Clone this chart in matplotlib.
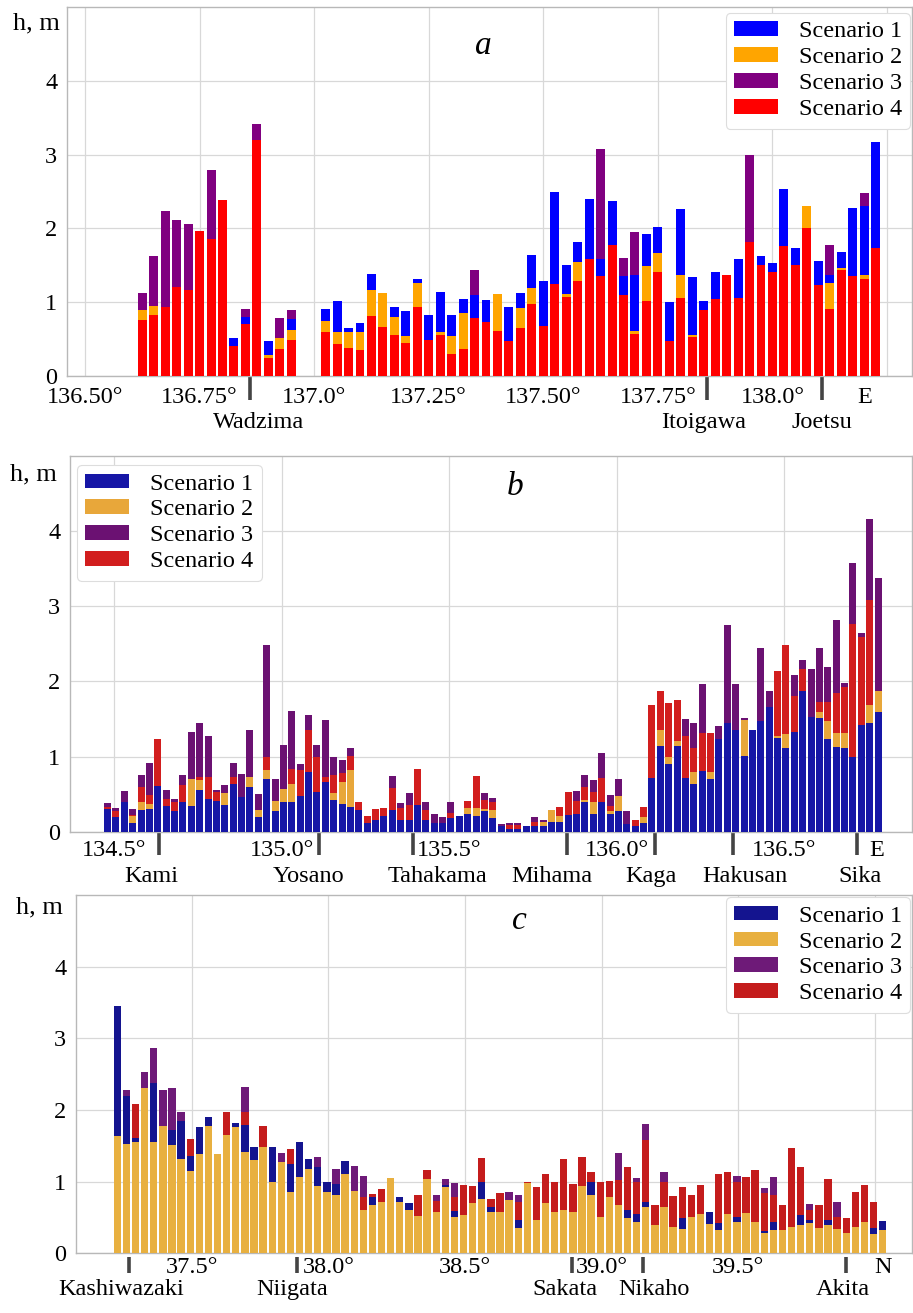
import numpy as np
import matplotlib
matplotlib.use("Agg")
import matplotlib.pyplot as plt

plt.rcParams['font.family'] = 'serif'
plt.rcParams['font.serif'] = ['Liberation Serif', 'DejaVu Serif']

# ---------------- data: panel a (longitude, E) ----------------
a_lon = np.round(136.625 + 0.025 * np.arange(65), 3)
a_s1 = [.89, .95, .94, 1.21, 1.17, 1.96, 1.85, 2.38, .51, .80,
        3.20, .48, .52, .77, 0, 0, .91, 1.01, .65, .72,
        1.38, 1.13, .94, .88, 1.31, .82, 1.14, .82, 1.04, 1.10,
        1.03, 1.11, .93, 1.13, 1.64, 1.29, 2.49, 1.50, 1.81, 2.40,
        1.59, 2.37, 1.35, 1.37, 1.92, 2.02, 1.00, 2.26, 1.34, 1.01,
        1.41, 1.37, 1.59, 1.81, 1.62, 1.53, 2.53, 1.73, 2.00, 1.56,
        1.37, 1.68, 2.27, 2.31, 3.17]
a_s2 = [.89, .95, .94, 1.21, 1.17, 1.96, 1.85, 2.38, .40, .71,
        3.20, .28, .52, .62, 0, 0, .74, .60, .60, .60,
        1.17, 1.13, .80, .54, 1.26, .49, .60, .54, .85, .78,
        .73, 1.11, .48, .92, 1.19, .68, 1.25, 1.11, 1.54, 1.59,
        1.36, 1.78, 1.10, .61, 1.49, 1.67, .48, 1.37, .56, .89,
        1.04, 1.37, 1.06, 1.81, 1.50, 1.41, 1.76, 1.51, 2.30, 1.23,
        1.26, 1.47, 1.36, 1.37, 1.73]
a_s3 = [1.13, 1.63, 2.23, 2.11, 2.06, 1.96, 2.79, 2.38, .51, .91,
        3.41, .48, .79, .89, 0, 0, .91, 1.01, .65, .72,
        1.38, 1.13, .94, .88, 1.31, .82, 1.14, .82, 1.04, 1.43,
        1.03, 1.11, .93, 1.13, 1.64, 1.29, 2.49, 1.50, 1.81, 2.40,
        3.08, 2.37, 1.60, 1.95, 1.92, 2.02, 1.00, 2.26, 1.34, 1.01,
        1.41, 1.37, 1.59, 2.99, 1.62, 1.53, 2.53, 1.73, 2.30, 1.56,
        1.78, 1.68, 2.27, 2.48, 3.17]
a_s4 = [.76, .82, .94, 1.21, 1.17, 1.96, 1.85, 2.38, .40, .71,
        3.20, .24, .37, .49, 0, 0, .60, .44, .38, .35,
        .81, .67, .56, .45, .94, .49, .56, .30, .36, .78,
        .73, .61, .48, .65, .97, .68, 1.25, 1.07, 1.29, 1.59,
        1.35, 1.78, 1.10, .57, 1.01, 1.41, .48, 1.06, .53, .89,
        1.04, 1.37, 1.06, 1.81, 1.50, 1.41, 1.76, 1.51, 2.00, 1.23,
        .91, 1.44, 1.36, 1.31, 1.73]
a_ticks = [136.5, 136.75, 137.0, 137.25, 137.5, 137.75, 138.0, 138.25]
a_ticklabels = ['136.50°', '136.75°', '137.0°', '137.25°', '137.50°', '137.75°', '138.0°', '']
a_towns = ['Wadzima', 'Itoigawa', 'Joetsu']
a_town_lon = [136.86, 137.857, 138.108]

# ---------------- data: panel b (longitude, E) ----------------
b_lon = np.round(134.48 + 0.025 * np.arange(93), 3)
b_s1 = [.30, .19, .39, .12, .29, .30, .61, .34, .27, .39,
        .34, .55, .44, .41, .36, .64, .46, .59, .19, .70,
        .28, .39, .39, .48, .79, .53, .66, .42, .37, .33,
        .29, .12, .16, .21, .29, .16, .16, .36, .15, .12,
        .12, .18, .21, .24, .21, .27, .18, .07, .04, .04,
        .08, .08, .08, .13, .13, .22, .24, .39, .24, .39,
        .24, .27, .10, .07, .12, .72, 1.14, .90, 1.14, .72,
        .64, .81, .70, 1.23, 1.45, 1.36, 1.01, 1.36, 1.47, 1.66,
        1.25, 1.11, 1.33, 1.87, 1.52, 1.51, 1.24, 1.13, 1.12, .99,
        1.42, 1.44, 1.59]
b_s2 = [.30, .19, .39, .21, .39, .37, .61, .34, .27, .39,
        .70, .69, .44, .41, .51, .64, .46, .73, .29, .82,
        .41, .57, .64, .48, .79, .53, .66, .51, .66, .82,
        .29, .12, .16, .21, .29, .16, .16, .36, .15, .12,
        .12, .18, .21, .32, .32, .30, .29, .07, .04, .04,
        .08, .08, .13, .29, .21, .22, .24, .42, .40, .39,
        .28, .47, .10, .07, .20, .72, 1.36, .99, 1.21, .72,
        .80, .81, .79, 1.23, 1.45, 1.36, 1.48, 1.36, 1.47, 1.66,
        1.27, 1.30, 1.33, 1.87, 1.52, 1.59, 1.47, 1.31, 1.32, .99,
        1.42, 1.68, 1.87]
b_s3 = [.38, .32, .54, .30, .76, .91, 1.24, .56, .44, .75,
        1.33, 1.44, 1.27, .56, .62, .91, .77, 1.36, .50, 2.48,
        .70, 1.16, 1.61, .90, 1.55, 1.15, 1.48, .99, .96, 1.12,
        .40, .21, .30, .31, .74, .38, .51, .83, .39, .24,
        .19, .39, .21, .41, .74, .52, .45, .10, .12, .12,
        .08, .19, .16, .29, .33, .53, .54, .76, .69, 1.05,
        .49, .70, .28, .15, .33, 1.68, 1.87, 1.71, 1.75, 1.50,
        1.44, 1.96, 1.32, 1.41, 2.75, 1.97, 1.51, 1.36, 2.44, 1.87,
        2.14, 2.48, 2.08, 2.28, 2.16, 2.44, 2.19, 2.82, 1.98, 3.58,
        2.65, 4.16, 3.38]
b_s4 = [.33, .27, .39, .22, .60, .49, 1.24, .44, .39, .62,
        .70, .73, .73, .53, .51, .73, .46, .73, .29, 1.00,
        .41, .57, .83, .82, 1.36, 1.00, .73, .76, .78, 1.01,
        .40, .21, .30, .31, .58, .31, .35, .83, .29, .12,
        .12, .25, .21, .41, .74, .42, .40, .07, .09, .09,
        .08, .13, .13, .29, .33, .53, .41, .60, .53, .71,
        .34, .47, .10, .15, .33, 1.68, 1.87, 1.71, 1.75, 1.27,
        1.11, 1.31, 1.32, 1.23, 1.45, 1.36, 1.48, 1.36, 1.47, 1.66,
        2.14, 2.48, 1.80, 2.16, 1.52, 1.73, 1.73, 1.84, 1.93, 2.76,
        2.59, 3.08, 1.87]
b_ticks = [134.5, 135.0, 135.5, 136.0, 136.5]
b_ticklabels = ['134.5°', '135.0°', '135.5°', '136.0°', '136.5°']
b_towns = ['Kami', 'Yosano', 'Tahakama', 'Mihama', 'Kaga', 'Hakusan', 'Sika']
b_town_lon = [134.634, 135.112, 135.393, 135.85, 136.114, 136.348, 136.718]

# ---------------- data: panel c (latitude, N) ----------------
c_lat = np.round(37.228 + np.arange(85) / 30, 4)
c_s1 = [3.45, 2.19, 1.61, 2.30, 2.37, 1.77, 1.72, 1.84, 1.36, 1.76,
        1.90, 1.39, 1.65, 1.82, 1.79, 1.49, 1.49, 1.49, 1.28, 1.24,
        1.55, 1.31, 1.20, .99, .97, 1.29, .87, .60, .78, .71,
        1.05, .78, .70, .52, 1.04, .58, .96, .59, .54, .70,
        .99, .64, .58, .74, .46, .98, .46, .70, .58, .60,
        .57, .94, .99, .50, .78, .67, .60, .55, .71, .39,
        .65, .37, .49, .50, .55, .57, .42, .55, .50, .56,
        .44, .31, .43, .33, .37, .53, .47, .36, .47, .34,
        .29, .37, .43, .35, .45]
c_s2 = [1.63, 1.52, 1.55, 2.30, 1.55, 1.77, 1.51, 1.31, 1.15, 1.39,
        1.78, 1.39, 1.65, 1.76, 1.42, 1.30, 1.49, .99, 1.28, .86,
        1.06, 1.17, .94, .86, .82, 1.11, .87, .60, .68, .71,
        1.05, .71, .61, .52, 1.04, .58, .92, .51, .54, .70,
        .76, .57, .58, .74, .35, .98, .46, .70, .58, .60,
        .57, .94, .81, .50, .78, .67, .49, .44, .64, .39,
        .65, .37, .34, .50, .55, .41, .33, .55, .43, .56,
        .44, .28, .33, .33, .37, .40, .42, .36, .40, .34,
        .29, .37, .43, .27, .32]
c_s3 = [3.45, 2.28, 2.08, 2.53, 2.86, 2.28, 2.30, 1.97, 1.60, 1.76,
        1.90, 1.39, 1.97, 1.82, 2.32, 1.49, 1.77, 1.49, 1.40, 1.45,
        1.55, 1.31, 1.35, .99, 1.17, 1.29, 1.22, 1.08, .83, .90,
        1.05, .78, .70, .81, 1.16, .82, 1.03, .98, .95, .94,
        1.33, .76, .84, .85, .81, .99, .93, 1.11, .99, 1.31,
        .97, 1.34, 1.14, .99, 1.01, 1.40, 1.20, 1.05, 1.80, .67,
        1.13, .80, .93, .82, .95, .57, 1.10, 1.14, 1.08, 1.06,
        1.16, .91, 1.06, .68, 1.47, 1.20, .69, .68, 1.03, .72,
        .49, .85, .95, .72, .45]
c_s4 = [3.45, 2.19, 2.08, 2.30, 2.37, 1.77, 1.72, 1.84, 1.60, 1.76,
        1.90, 1.39, 1.97, 1.82, 1.97, 1.49, 1.77, 1.49, 1.28, 1.45,
        1.55, 1.31, 1.20, .99, .97, 1.29, .87, .78, .83, .90,
        1.05, .78, .70, .81, 1.16, .73, .96, .79, .95, .94,
        1.33, .76, .84, .74, .72, .99, .93, 1.11, .99, 1.31,
        .97, 1.34, 1.14, .99, 1.01, 1.02, 1.20, 1.00, 1.58, .67,
        1.00, .80, .93, .82, .95, .57, 1.10, 1.14, 1.00, 1.06,
        1.16, .84, .81, .68, 1.47, 1.20, .60, .68, 1.03, .50,
        .49, .85, .95, .72, .45]
c_ticks = [37.5, 38.0, 38.5, 39.0, 39.5, 40.0]
c_ticklabels = ['37.5°', '38.0°', '38.5°', '39.0°', '39.5°', '']
c_towns = ['Kashiwazaki', 'Niigata', 'Sakata', 'Nikaho', 'Akita']
c_town_lat = [37.272, 37.884, 38.89, 39.153, 39.894]

labels = ['Scenario 1', 'Scenario 2', 'Scenario 3', 'Scenario 4']

W, H = 913, 1313
FS = 17.5
fig = plt.figure(figsize=(W / 100, H / 100), dpi=100)


def px_axes(l, t, r, b):
    return fig.add_axes([l / W, 1 - b / H, (r - l) / W, (b - t) / H])


def style(ax, xlim, ticks, ticklabels, pad):
    ax.set_xlim(*xlim)
    ax.set_ylim(0, 5)
    ax.set_yticks([0, 1, 2, 3, 4])
    ax.set_xticks(ticks)
    ax.set_xticklabels(ticklabels)
    ax.tick_params(length=0, labelsize=FS, pad=pad)
    ax.tick_params(axis='y', pad=7)
    ax.grid(True, color='#d8d8d8', linewidth=0.9)
    ax.set_axisbelow(True)
    for s in ax.spines.values():
        s.set_color('#b8b8b8')
        s.set_linewidth(1.0)


def towns(ax, xs, names, offs, mark_top, mark_len, lab_pad):
    for x, name, dx in zip(xs, names, offs):
        ax.plot([x, x], [-mark_top, -mark_top - mark_len], color='#444444',
                lw=2.6, clip_on=False, solid_capstyle='butt')
        ax.annotate(name, xy=(x, 0), xycoords=ax.get_xaxis_transform(),
                    xytext=(dx, -lab_pad), textcoords='offset pixels',
                    ha='center', va='top', fontsize=FS)


def end_label(ax, x, txt, pad):
    ax.annotate(txt, xy=(x, 0), xycoords=ax.get_xaxis_transform(),
                xytext=(0, -pad), textcoords='offset pixels',
                ha='center', va='top', fontsize=FS)


def legend(ax, handles, loc, anchor):
    lg = ax.legend(handles, labels, loc=loc, bbox_to_anchor=anchor, borderaxespad=0,
                   fontsize=FS, labelspacing=0.2, handlelength=1.8, handleheight=0.55,
                   handletextpad=0.85, borderpad=0.35, framealpha=1, edgecolor='#dddddd',
                   fancybox=True)
    lg.get_frame().set_linewidth(0.8)


# ---------------- panel a ----------------
ax = px_axes(67, 7, 912, 376)
cols = ['#0000ff', '#ffa500', '#800080', '#ff0000']
w = 0.0195
h3 = ax.bar(a_lon, a_s3, w, color=cols[2], zorder=2)
h1 = ax.bar(a_lon, a_s1, w, color=cols[0], zorder=3)
h2 = ax.bar(a_lon, a_s2, w, color=cols[1], zorder=4)
h4 = ax.bar(a_lon, a_s4, w, color=cols[3], zorder=5)
style(ax, (136.4607, 138.3045), a_ticks, a_ticklabels, 8)
legend(ax, [h1, h2, h3, h4], 'upper right', (0.998, 0.984))
towns(ax, a_town_lon, a_towns, [9, -3, 0], 0.0, 0.32, 36)
end_label(ax, 138.202, 'E', 11)
fig.text(36 / W, 1 - 23 / H, 'h, m', fontsize=19, ha='center', va='center')
fig.text(483 / W, 1 - 46 / H, 'a', fontsize=24, style='italic', ha='center', va='center')

# ---------------- panel b ----------------
ax = px_axes(70, 456, 912, 831.7)
cols = ['#1616a6', '#e8a73a', '#6b1172', '#d21e1e']
w = 0.021
h3 = ax.bar(b_lon, b_s3, w, color=cols[2], zorder=2)
h4 = ax.bar(b_lon, b_s4, w, color=cols[3], zorder=3)
h2 = ax.bar(b_lon, b_s2, w, color=cols[1], zorder=4)
h1 = ax.bar(b_lon, b_s1, w, color=cols[0], zorder=5)
style(ax, (134.3678, 136.8812), b_ticks, b_ticklabels, 6)
legend(ax, [h1, h2, h3, h4], 'upper left', (0.0083, 0.976))
towns(ax, b_town_lon, b_towns, [-8, -11, 24, -15, -4, 12, 3], 0.0, 0.31, 34)
end_label(ax, 136.777, 'E', 8)
fig.text(33 / W, 1 - 474 / H, 'h, m', fontsize=19, ha='center', va='center')
fig.text(515 / W, 1 - 487 / H, 'b', fontsize=24, style='italic', ha='center', va='center')

# ---------------- panel c ----------------
ax = px_axes(76, 895, 912, 1253.3)
cols = ['#14148f', '#e8b040', '#6e1a78', '#c41c1c']
w = 0.027
h3 = ax.bar(c_lat, c_s3, w, color=cols[2], zorder=2)
h4 = ax.bar(c_lat, c_s4, w, color=cols[3], zorder=3)
h1 = ax.bar(c_lat, c_s1, w, color=cols[0], zorder=4)
h2 = ax.bar(c_lat, c_s2, w, color=cols[1], zorder=5)
style(ax, (37.0767, 40.1354), c_ticks, c_ticklabels, 3)
legend(ax, [h1, h2, h3, h4], 'upper right', (0.998, 0.994))
towns(ax, c_town_lat, c_towns, [-8, -4, -7, 10, -3], 0.05, 0.22, 26)
end_label(ax, 40.03, 'N', 4)
fig.text(39 / W, 1 - 907 / H, 'h, m', fontsize=19, ha='center', va='center')
fig.text(519 / W, 1 - 921 / H, 'c', fontsize=24, style='italic', ha='center', va='center')

fig.savefig('out.png', dpi=100, facecolor='white')
